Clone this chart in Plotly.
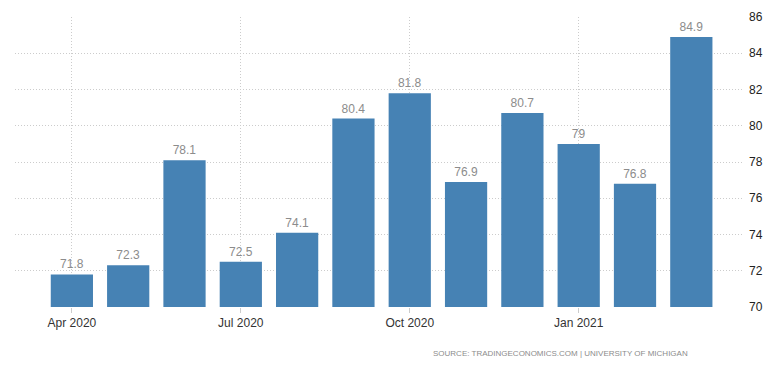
import plotly.graph_objects as go

months = ["2020-04", "2020-05", "2020-06", "2020-07", "2020-08", "2020-09",
          "2020-10", "2020-11", "2020-12", "2021-01", "2021-02", "2021-03"]
values = [71.8, 72.3, 78.1, 72.5, 74.1, 80.4, 81.8, 76.9, 80.7, 79, 76.8, 84.9]
tick_months = ["2020-04", "2020-07", "2020-10", "2021-01"]
tick_labels = ["Apr 2020", "Jul 2020", "Oct 2020", "Jan 2021"]
y_ticks = [70, 72, 74, 76, 78, 80, 82, 84, 86]

fig = go.Figure()
fig.add_trace(go.Bar(
    x=months, y=values,
    marker=dict(color="#4682B4", line=dict(width=0)),
    text=[f"{v:g}" for v in values],
    textposition="outside",
    textfont=dict(color="#8c8c8c", size=12, family="Liberation Sans, Arial"),
    cliponaxis=False,
))

fig.update_layout(
    width=779, height=372,
    margin=dict(l=7, r=45, t=9, b=73, autoexpand=False),
    paper_bgcolor="white", plot_bgcolor="white",
    bargap=0.25,
    showlegend=False,
    font=dict(family="Liberation Sans, Arial", color="#333333", size=12),
    xaxis=dict(
        type="category",
        automargin=False,
        range=[-1.01, 11.9],
        tickmode="array", tickvals=tick_months, ticktext=tick_labels,
        showgrid=True, gridcolor="#cccccc", griddash="1px,2px", gridwidth=1,
        ticks="outside", ticklen=5, tickcolor="#cccccc",
        showline=False, zeroline=False,
        tickfont=dict(size=12, color="#333333"),
    ),
    yaxis=dict(
        side="right",
        automargin=False,
        range=[70, 86],
        tickvals=y_ticks,
        showgrid=True, gridcolor="#cccccc", griddash="1px,2px", gridwidth=1,
        showline=False, zeroline=False,
        ticks="", ticklabelstandoff=6,
        tickfont=dict(size=12, color="#222222"),
    ),
    annotations=[dict(
        text="SOURCE: TRADINGECONOMICS.COM | UNIVERSITY OF MICHIGAN",
        xref="paper", yref="paper", x=0.928, y=-0.16,
        xanchor="right", yanchor="middle", showarrow=False,
        font=dict(size=8, color="#8c8c8c", family="Liberation Sans, Arial"),
    )],
)

fig.write_html("out.html")
